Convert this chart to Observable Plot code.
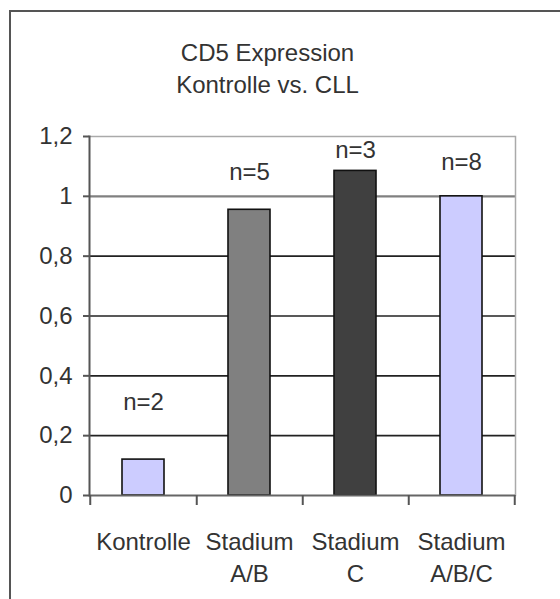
<!DOCTYPE html>
<html><head><meta charset="utf-8">
<script src="https://cdn.jsdelivr.net/npm/d3@7"></script>
<script src="https://cdn.jsdelivr.net/npm/@observablehq/plot@0.6"></script>
<style>
body{margin:0;background:#fff;}
#wrap{position:relative;width:560px;height:599px;overflow:hidden;}
#border{position:absolute;left:9px;top:10px;right:-10px;bottom:-10px;border-top:2px solid #555;border-left:2px solid #555;pointer-events:none;}
</style></head><body>
<div id="wrap"><div id="chart"></div><div id="border"></div></div>
<script>
const categories = ["Kontrolle", "Stadium A/B", "Stadium C", "Stadium A/B/C"];
const categoryLabels = ["Kontrolle", "Stadium\nA/B", "Stadium\nC", "Stadium\nA/B/C"];
const values = [0.12, 0.955, 1.085, 1.0];
const colors = ["#ccccff", "#808080", "#404040", "#ccccff"];
const nLabels = ["n=2", "n=5", "n=3", "n=8"];
const nLabelY = [0.31, 1.08, 1.153, 1.113];
const yTicks = [0, 0.2, 0.4, 0.6, 0.8, 1, 1.2];
const title = ["CD5 Expression\nKontrolle vs. CLL"];

const rows = categories.map((c, i) => ({
  category: c, value: values[i], color: colors[i],
  n: nLabels[i], nY: nLabelY[i], label: categoryLabels[i]
}));

const W = 560, H = 599, ML = 89, MR = 45, MT = 136, MB = 104;
const step = (W - ML - MR) / categories.length;
const plotH = H - MT - MB;
const font = "'Liberation Sans', Arial, sans-serif";
const txt = "#333";

const chart = Plot.plot({
  width: W, height: H,
  marginLeft: ML, marginRight: MR, marginTop: MT, marginBottom: MB,
  style: {fontFamily: font, fontSize: "24px", color: txt, background: "#fff"},
  x: {type: "band", domain: categories, paddingInner: 0.6, paddingOuter: 0.3, axis: null},
  y: {domain: [0, 1.2], axis: null},
  color: {type: "identity"},
  marks: [
    Plot.ruleY(yTicks.filter(v => v > 0 && v < 1), {stroke: "#222", strokeWidth: 1.6}),
    Plot.ruleY([1], {stroke: "#808080", strokeWidth: 2.4}),
    Plot.ruleY([1.2], {stroke: "#aaa", strokeWidth: 1.5}),
    Plot.frame({anchor: "right", stroke: "#aaa", strokeWidth: 1.5}),
    Plot.barY(rows, {x: "category", y: "value", fill: "color", stroke: "#111", strokeWidth: 1.6}),
    Plot.ruleY([0], {stroke: "#666", strokeWidth: 2}),
    Plot.frame({anchor: "left", stroke: "#555", strokeWidth: 2}),
    Plot.ruleX(categories, {x: d => d, dx: step / 2, insetTop: plotH, insetBottom: -10, stroke: "#555", strokeWidth: 2}),
    Plot.ruleX([categories[0]], {x: d => d, dx: -step / 2, insetTop: plotH, insetBottom: -10, stroke: "#555", strokeWidth: 2}),
    Plot.axisY({ticks: yTicks, tickSize: 6, tickPadding: 11, tickFormat: d => String(d).replace(".", ","), fontSize: 24, stroke: "#555", strokeWidth: 2, fill: txt}),
    Plot.text(rows, {x: "category", text: "label", frameAnchor: "bottom", lineAnchor: "top", dy: 31, lineHeight: 1.35, fontSize: 24, fill: txt}),
    Plot.text(rows, {x: "category", y: "nY", text: "n", fontSize: 24, fill: txt}),
    Plot.text(title, {frameAnchor: "top", lineAnchor: "top", dy: -98, dx: -35, lineHeight: 1.33, fontSize: 24, fill: txt})
  ]
});
document.getElementById("chart").append(chart);
</script>
</body></html>
